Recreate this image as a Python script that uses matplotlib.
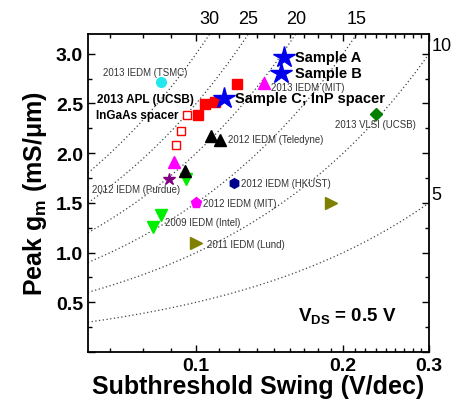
import numpy as np
import matplotlib
matplotlib.use("Agg")
import matplotlib.pyplot as plt
from matplotlib.ticker import FixedLocator, NullFormatter

plt.rcParams["font.family"] = ["Liberation Sans", "DejaVu Sans"]
plt.rcParams["mathtext.fontset"] = "custom"
plt.rcParams["mathtext.rm"] = "Liberation Sans"
plt.rcParams["mathtext.bf"] = "Liberation Sans:bold"

# ---- data (SS in V/dec, peak gm in mS/um) ----
sample_ss = [0.151, 0.149, 0.114]
sample_gm = [2.97, 2.81, 2.55]
sample_names = ["Sample A", "Sample B", "Sample C; InP spacer"]

apl_ss = [0.121, 0.104, 0.1095, 0.101]          # 2013 APL (UCSB), filled
apl_gm = [2.70, 2.49, 2.51, 2.38]
ingaas_ss = [0.0959, 0.0929, 0.0910]            # InGaAs spacer, open
ingaas_gm = [2.38, 2.22, 2.08]

tsmc_ss, tsmc_gm = [0.0848], [2.72]
mit13_ss, mit13_gm = [0.138], [2.71]
vlsi_ss, vlsi_gm = [0.234], [2.395]
teledyne_ss, teledyne_gm = [0.1073, 0.112], [2.17, 2.135]
purdue_tri_ss, purdue_tri_gm = [0.0899], [1.91]
purdue_star_ss, purdue_star_gm = [0.0878], [1.74]
black_ss, black_gm = [0.0950], [1.82]
green_ss, green_gm = [0.0954], [1.74]
hkust_ss, hkust_gm = [0.1197], [1.695]
mit12_ss, mit12_gm = [0.0997], [1.50]
intel_ss, intel_gm = [0.0848, 0.0815], [1.38, 1.26]
lund_ss, lund_gm = [0.100, 0.1887], [1.095, 1.50]

q_values = [5, 10, 15, 20, 25, 30]   # gm/SS contours

XMIN, XMAX = 0.06, 0.3
YMIN, YMAX = 0.0, 3.2

fig = plt.figure(figsize=(4.7, 4.1), dpi=100)
ax = fig.add_axes([0.187, 0.139, 0.726, 0.776])
ax.set_xscale("log")
ax.set_xlim(XMIN, XMAX)
ax.set_ylim(YMIN, YMAX)

# contour lines gm = Q * SS
ss_line = np.geomspace(XMIN, XMAX, 300)
for q in q_values:
    ax.plot(ss_line, q * ss_line, ls=(0, (1, 2)), color="#444444", lw=0.9, zorder=1)
    if q * XMAX <= YMAX:
        ax.text(XMAX * 1.012, q * XMAX, str(q), fontsize=13, ha="left", va="bottom",
                clip_on=False)
    else:
        ax.text(YMAX / q, YMAX * 1.02, str(q), fontsize=13, ha="center", va="bottom",
                clip_on=False)

# markers
kw = dict(ls="none", zorder=3, clip_on=False)
ax.plot(apl_ss, apl_gm, marker="s", ms=6.5, color="#ff0000", mec="#ff0000", **kw)
ax.plot(ingaas_ss, ingaas_gm, marker="s", ms=6, mfc="white", mec="#ff0000", mew=1.0, **kw)
ax.plot(tsmc_ss, tsmc_gm, marker="o", ms=7, color="#22e8ee", **kw)
ax.plot(mit13_ss, mit13_gm, marker="^", ms=8, color="#ff00ff", **kw)
ax.plot(vlsi_ss, vlsi_gm, marker="D", ms=6.5, color="#007f00", **kw)
ax.plot(teledyne_ss, teledyne_gm, marker="^", ms=8, color="black", **kw)
ax.plot(purdue_tri_ss, purdue_tri_gm, marker="^", ms=8, color="#ff00ff", **kw)
ax.plot(purdue_star_ss, purdue_star_gm, marker="*", ms=9, color="#800080", **kw)
ax.plot(green_ss, green_gm, marker="v", ms=8, color="#00ee00", **kw)
ax.plot(black_ss, black_gm, marker="^", ms=8, color="black", **kw)
ax.plot(hkust_ss, hkust_gm, marker="h", ms=7, color="#00008b", **kw)
ax.plot(mit12_ss, mit12_gm, marker="p", ms=8, color="#ff00ff", **kw)
ax.plot(intel_ss, intel_gm, marker="v", ms=8, color="#00ee00", **kw)
ax.plot(lund_ss, lund_gm, marker=">", ms=8, color="#808000", **kw)
ax.plot(sample_ss, sample_gm, marker="*", ms=16, color="#0000ee", **kw)


def label(x, y, s, dx, dy, size=6.9, ha="left", weight="normal", color="#333333"):
    ax.annotate(s, (x, y), xytext=(dx, dy), textcoords="offset pixels",
                fontsize=size, ha=ha, va="center", fontweight=weight, color=color)


for x, y, s, dx in zip(sample_ss, sample_gm, sample_names, [11, 14, 11]):
    label(x, y, s, dx, 0, size=10.5, weight="bold", color="black")

label(tsmc_ss[0], tsmc_gm[0], "2013 IEDM (TSMC)", -16, 10, ha="center")
label(apl_ss[1], apl_gm[1], "2013 APL (UCSB)", -11, 5, size=8.5, ha="right", weight="bold", color="black")
label(ingaas_ss[0], ingaas_gm[0], "InGaAs spacer", -9, 0, size=8.5, ha="right", weight="bold", color="black")
label(mit13_ss[0], mit13_gm[0], "2013 IEDM (MIT)", 7, -4)
label(vlsi_ss[0], vlsi_gm[0], "2013 VLSI (UCSB)", -1, -10, ha="center")
label(teledyne_ss[1], teledyne_gm[1], "2012 IEDM (Teledyne)", 8, 1)
label(purdue_star_ss[0], purdue_star_gm[0], "2012 IEDM (Purdue)", 12, -10, ha="right")
label(hkust_ss[0], hkust_gm[0], "2012 IEDM (HKUST)", 7, 0)
label(mit12_ss[0], mit12_gm[0], "2012 IEDM (MIT)", 7, 0)
label(intel_ss[0], intel_gm[0], "2009 IEDM (Intel)", 4, -7)
label(lund_ss[0], lund_gm[0], "2011 IEDM (Lund)", 11, -1)

ax.text(0.616, 0.114, r"V$_{\mathbf{DS}}$ = 0.5 V", transform=ax.transAxes,
        fontsize=13.5, fontweight="bold", ha="left", va="center")

# axes styling
ax.xaxis.set_major_locator(FixedLocator([0.1, 0.2, 0.3]))
ax.set_xticklabels(["0.1", "0.2", "0.3"])
minor = [v for v in np.arange(0.0, 0.3, 0.1 / 9) if v > XMIN and abs(v * 10 - round(v * 10)) > 1e-6]
ax.xaxis.set_minor_locator(FixedLocator(minor))
ax.xaxis.set_minor_formatter(NullFormatter())
ax.set_yticks(np.arange(0.0, 3.01, 0.5))
ax.set_yticks(np.arange(0.25, 3.2, 0.5), minor=True)
ax.set_yticklabels(["", "0.5", "1.0", "1.5", "2.0", "2.5", "3.0"])

ax.tick_params(which="both", direction="in", top=True, right=True, width=1.0)
ax.tick_params(which="major", length=5, labelsize=14)
ax.tick_params(which="minor", length=3)
for lab in ax.get_xticklabels() + ax.get_yticklabels():
    lab.set_fontweight("bold")
for sp in ax.spines.values():
    sp.set_linewidth(1.3)

ax.set_xlabel("Subthreshold Swing (V/dec)", fontsize=18, fontweight="bold", labelpad=0)
ax.set_ylabel(r"Peak g$_{\mathbf{m}}$ (mS/$\mathbf{\mu}$m)", fontsize=18, fontweight="bold", labelpad=5)

fig.savefig("out.png", dpi=100)
